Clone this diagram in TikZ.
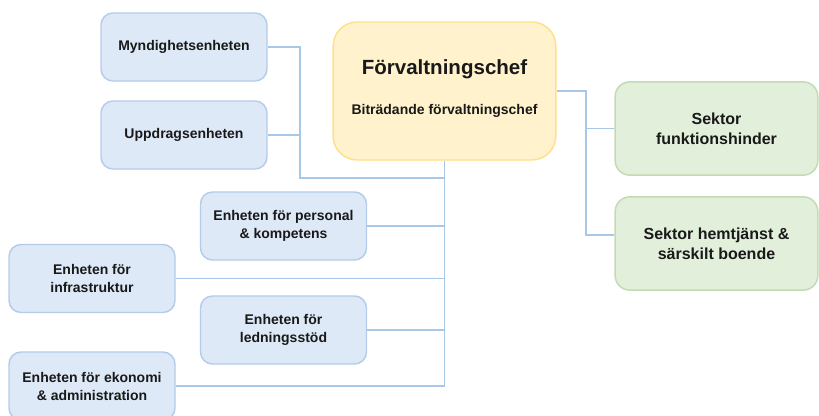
\documentclass[tikz,border=0pt]{standalone}
\usepackage{fontspec}
\setmainfont{Liberation Sans}

\definecolor{enhetfill}{HTML}{DDE9F7}
\definecolor{enhetline}{HTML}{B4CCE9}
\definecolor{cheffill}{HTML}{FFF2CC}
\definecolor{chefline}{HTML}{FFE08A}
\definecolor{sektorfill}{HTML}{E2EFDA}
\definecolor{sektorline}{HTML}{C2DBB3}
\definecolor{ledline}{HTML}{A8C8EA}

\tikzset{every picture/.style={line width=0.75pt},
  enhet/.style={draw=enhetline, fill=enhetfill, line width=1.1pt, rounded corners=9pt, minimum width=124.5pt, minimum height=51pt, inner sep=0pt, align=center, text=black!90, font=\fontsize{10.5}{13.5}\selectfont\bfseries},
  chefbox/.style={draw=chefline, fill=cheffill, line width=1.1pt, rounded corners=18pt, minimum width=167pt, minimum height=103.5pt, inner sep=0pt},
  sektor/.style={draw=sektorline, fill=sektorfill, line width=1.1pt, rounded corners=11pt, minimum width=152pt, minimum height=70pt, inner sep=0pt, align=center, text=black!90, font=\fontsize{12}{15}\selectfont\bfseries},
  led/.style={draw=ledline, line width=1.4pt}}

\begin{document}
\begin{tikzpicture}[x=0.75pt,y=0.75pt,yscale=-1,xscale=1]
	\useasboundingbox (0,0) rectangle (819,415);
	\clip (0,0) rectangle (819,415);

	% Chef
	\node (chef) [chefbox] at (444.5,91) {};
	\node (cheftitel) [text=black!90, font=\fontsize{15.4}{18}\selectfont\bfseries] at (444.5,69) {Förvaltningschef};
	\node (bitr) [text=black!90, font=\fontsize{10.5}{13.5}\selectfont\bfseries] at (444.5,111) {Biträdande förvaltningschef};

	% Enheter
	\node (mynd) [enhet] at (184,47) {Myndighetsenheten};
	\node (uppd) [enhet] at (184,135) {Uppdragsenheten};
	\node (pers) [enhet] at (283.5,226) {Enheten för personal\\\& kompetens};
	\node (infra) [enhet] at (92,278.5) {Enheten för\\infrastruktur};
	\node (ledn) [enhet] at (283.5,330) {Enheten för\\ledningsstöd};
	\node (ekon) [enhet] at (92,386) {Enheten för ekonomi\\\& administration};

	% Sektorer
	\node (funk) [sektor] at (716.5,128.5) {Sektor\\funktionshinder};
	\node (hemt) [sektor] at (716.5,243.5) {Sektor hemtjänst \&\\särskilt boende};

	% Lines
	\coordinate (vgren) at (300,178);
	\coordinate (hgren) at (586,235);
	\draw [led] (mynd.east) -| (vgren) -- (vgren -| chef.south);
	\draw [led] (uppd.east) -- (uppd.east -| vgren);
	\draw [led] (chef.south) -- (chef.south |- ekon.east);
	\draw [led] (pers.east) -- (pers.east -| chef.south);
	\draw [led] (infra.east) -- (infra.east -| chef.south);
	\draw [led] (ledn.east) -- (ledn.east -| chef.south);
	\draw [led] (ekon.east) -- (ekon.east -| chef.south);
	\draw [led] (chef.east) -| (hgren) -- (hgren -| hemt.west);
	\draw [led] (funk.west) -- (funk.west -| hgren);

\end{tikzpicture}
\end{document}
